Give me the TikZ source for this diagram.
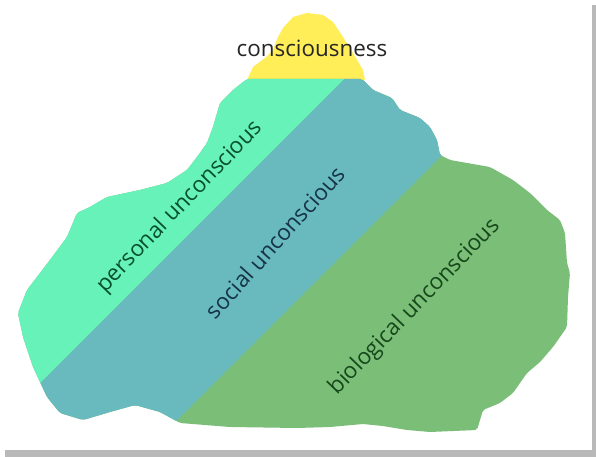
\documentclass[tikz,border=0pt]{standalone}
\usepackage{fontspec}
\setmainfont{Open Sans}
\usetikzlibrary{positioning}

\definecolor{peakyellow}{RGB}{255,238,88}
\definecolor{personalfill}{RGB}{102,242,184}
\definecolor{socialfill}{RGB}{104,186,190}
\definecolor{biofill}{RGB}{122,190,120}
\definecolor{personaltext}{RGB}{8,80,44}
\definecolor{socialtext}{RGB}{22,52,70}
\definecolor{biotext}{RGB}{22,72,26}

\begin{document}
\begin{tikzpicture}[x=1bp, y=-1bp,
    layerlabel/.style={font=\fontsize{22.5}{27}\selectfont, inner sep=0pt}]
    \useasboundingbox (0,0) rectangle (596,457);

    % Frame with shadow
    \fill[gray!55] (5,5) rectangle (596,457);
    \fill[white] (0,0) rectangle (592,450);

    % Tip above the water
    \fill[peakyellow] (247,80) -- (253,67) -- (265,58) -- (273,50) -- (278,37) -- (283,28)
        -- (293,17) -- (307,13) -- (323,15) -- (333,22) -- (343,37) -- (353,53)
        -- (363,70) -- (365,80) -- cycle;

    % Region fills, clipped to the outline of the lower part
    \begin{scope}
        \clip[rounded corners=2pt] (247,79) -- (362,79) -- (373,90) -- (392,98) -- (400,110)
            -- (420,118) -- (430,127) -- (437,140) -- (440,155) -- (450,160) -- (490,167)
            -- (513,180) -- (530,193) -- (547,210) -- (560,220) -- (565,233) -- (567,263)
            -- (570,273) -- (568,297) -- (567,327) -- (553,347) -- (540,362) -- (527,373)
            -- (513,393) -- (500,403) -- (483,410) -- (477,430) -- (430,432) -- (407,430)
            -- (383,426) -- (363,424) -- (330,427) -- (297,428) -- (230,427) -- (180,423)
            -- (160,412) -- (135,405) -- (110,412) -- (83,420) -- (60,413) -- (47,397)
            -- (33,367) -- (23,337) -- (18,313) -- (27,290) -- (50,260) -- (67,237)
            -- (77,213) -- (90,207) -- (107,197) -- (140,190) -- (167,183) -- (187,170)
            -- (197,157) -- (207,143) -- (213,127) -- (220,103) -- (233,90) -- cycle;
        \fill[biofill] (0,0) rectangle (596,457);
        \fill[socialfill] (423,0) -- (597,0) -- (0,597) -- (0,423) -- cycle;
        \fill[personalfill] (0,0) -- (423,0) -- (0,423) -- cycle;
    \end{scope}

    % Labels
    \node[layerlabel, text=black!85] (conscious) at (312,48) {consciousness};
    \node[layerlabel, rotate=46, text=personaltext] (personal) at (180,207) {personal unconscious};
    \node[layerlabel, rotate=48, text=socialtext] (social) at (275,242) {social unconscious};
    \node[layerlabel, rotate=46, text=biotext] (biological) at (415,307) {biological unconscious};
\end{tikzpicture}
\end{document}
